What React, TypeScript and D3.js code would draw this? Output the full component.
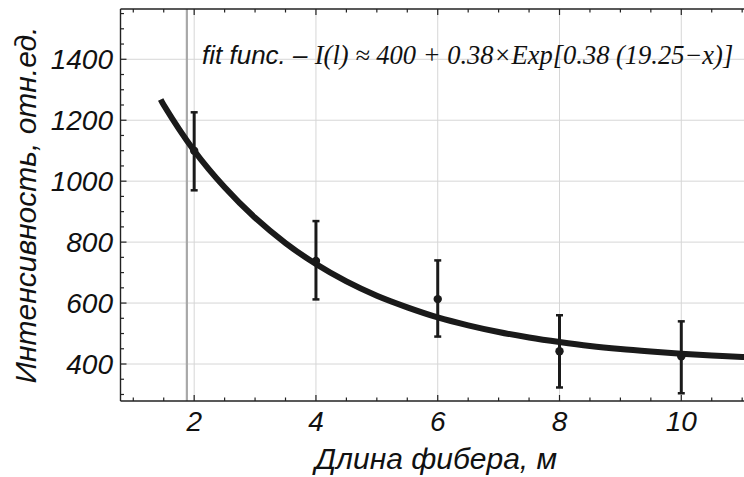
import React from 'react';
import * as d3 from 'd3';

// ---- data ----
const lengths = [2, 4, 6, 8, 10];
const intensity = [1100, 738, 613, 442, 425];
const errLow = [970, 612, 490, 323, 304];
const errHigh = [1226, 869, 740, 560, 540];

// fit curve
const fitX = [1.45, 1.5, 2, 2.5, 3, 3.5, 4, 4.5, 5, 5.5, 6, 6.5, 7, 7.5, 8, 8.5, 9, 9.5, 10, 10.5, 11, 11.2];
const fitY = [1268, 1250, 1100, 980, 880, 797, 728, 671, 624, 586, 553, 527, 505, 487, 472, 459, 449, 441, 434, 428, 423, 421];

const xMajorTicks = [2, 4, 6, 8, 10];
const yMajorTicks = [400, 600, 800, 1000, 1200, 1400];
const refLineX = 1.88;

const xLabel = 'Длина фибера, м';
const yLabel = 'Интенсивность, отн.ед.';
const fitPrefix = 'fit func. – ';
const fitFormula = 'I(l) ≈ 400 + 0.38×Exp[0.38 (19.25−x)]';

const W = 744;
const H = 477;

export default function App() {
  const x = d3.scaleLinear().domain([0.79, 11.03]).range([120.5, 744]);
  const y = d3.scaleLinear().domain([278.6, 1565]).range([401, 9]);
  const [x0, x1] = x.range();
  const [yb, yt] = y.range();

  const xMinor = d3.range(1, 11.01, 0.5).filter((v) => !xMajorTicks.includes(v));
  const yMinor = d3.range(300, 1551, 50).filter((v) => !yMajorTicks.includes(v));

  const line = d3
    .line<number>()
    .x((_, i) => x(fitX[i]))
    .y((d) => y(d))
    .curve(d3.curveCatmullRom);

  const sans = "'Liberation Sans', Arial, sans-serif";
  const serif = "'Liberation Serif', 'Times New Roman', serif";
  const frame = '#222';

  return (
    <svg
      width={W}
      height={H}
      style={{ position: 'absolute', left: 0, top: 0, background: '#fff' }}
    >
      <defs>
        <clipPath id="plot">
          <rect x={x0} y={yt} width={x1 - x0} height={yb - yt} />
        </clipPath>
      </defs>
      {/* grid */}
      <g stroke="#d6d6d6" strokeWidth={1}>
        {xMajorTicks.map((t) => (
          <line key={'gx' + t} x1={x(t)} x2={x(t)} y1={yt} y2={yb} />
        ))}
        {yMajorTicks.map((t) => (
          <line key={'gy' + t} x1={x0} x2={x1} y1={y(t)} y2={y(t)} />
        ))}
      </g>
      {/* reference vertical line */}
      <line x1={x(refLineX)} x2={x(refLineX)} y1={yt} y2={yb} stroke="#a8a8a8" strokeWidth={2.2} />

      {/* annotation */}
      <text x={202} y={64} fill="#111">
        <tspan fontFamily={sans} fontStyle="italic" fontSize={26}>{fitPrefix}</tspan>
        <tspan fontFamily={serif} fontStyle="italic" fontSize={26.5}>{fitFormula}</tspan>
      </text>

      {/* fit curve */}
      <g clipPath="url(#plot)">
        <path d={line(fitY) || ''} fill="none" stroke="#1a1a1a" strokeWidth={6} strokeLinecap="butt" />
      </g>

      {/* error bars and points */}
      <g stroke="#1a1a1a" fill="#1a1a1a">
        {lengths.map((l, i) => (
          <g key={'p' + l}>
            <line x1={x(l)} x2={x(l)} y1={y(errLow[i])} y2={y(errHigh[i])} strokeWidth={3} />
            <line x1={x(l) - 3.5} x2={x(l) + 3.5} y1={y(errLow[i])} y2={y(errLow[i])} strokeWidth={2.5} />
            <line x1={x(l) - 3.5} x2={x(l) + 3.5} y1={y(errHigh[i])} y2={y(errHigh[i])} strokeWidth={2.5} />
            <circle cx={x(l)} cy={y(intensity[i])} r={4.2} stroke="none" />
          </g>
        ))}
      </g>

      {/* frame */}
      <g stroke={frame} strokeWidth={1.4} fill="none">
        <line x1={x0} x2={x0} y1={yt} y2={yb} />
        <line x1={x0} x2={x1} y1={yb} y2={yb} />
        <line x1={x0} x2={x1} y1={yt} y2={yt} />
      </g>
      {/* ticks */}
      <g stroke={frame} strokeWidth={1.2}>
        {xMajorTicks.map((t) => (
          <g key={'xt' + t}>
            <line x1={x(t)} x2={x(t)} y1={yb} y2={yb - 6} />
            <line x1={x(t)} x2={x(t)} y1={yt} y2={yt + 6} />
          </g>
        ))}
        {xMinor.map((t) => (
          <g key={'xm' + t}>
            <line x1={x(t)} x2={x(t)} y1={yb} y2={yb - 3.5} />
            <line x1={x(t)} x2={x(t)} y1={yt} y2={yt + 3.5} />
          </g>
        ))}
        {yMajorTicks.map((t) => (
          <line key={'yt' + t} x1={x0} x2={x0 + 6} y1={y(t)} y2={y(t)} />
        ))}
        {yMinor.map((t) => (
          <line key={'ym' + t} x1={x0} x2={x0 + 3.5} y1={y(t)} y2={y(t)} />
        ))}
      </g>

      {/* tick labels */}
      <g fontFamily={sans} fontStyle="italic" fontSize={28} fill="#111">
        {xMajorTicks.map((t) => (
          <text key={'xl' + t} x={x(t)} y={430.5} textAnchor="middle">
            {t}
          </text>
        ))}
        {yMajorTicks.map((t) => (
          <text key={'yl' + t} x={113} y={y(t) + 9.5} textAnchor="end">
            {t}
          </text>
        ))}
      </g>

      {/* axis labels */}
      <text
        x={436}
        y={469}
        textAnchor="middle"
        fontFamily={sans}
        fontStyle="italic"
        fontSize={30}
        fill="#111"
      >
        {xLabel}
      </text>
      <text
        transform={`translate(36,205) rotate(-90)`}
        textAnchor="middle"
        fontFamily={sans}
        fontStyle="italic"
        fontSize={30}
        fill="#111"
      >
        {yLabel}
      </text>
    </svg>
  );
}
